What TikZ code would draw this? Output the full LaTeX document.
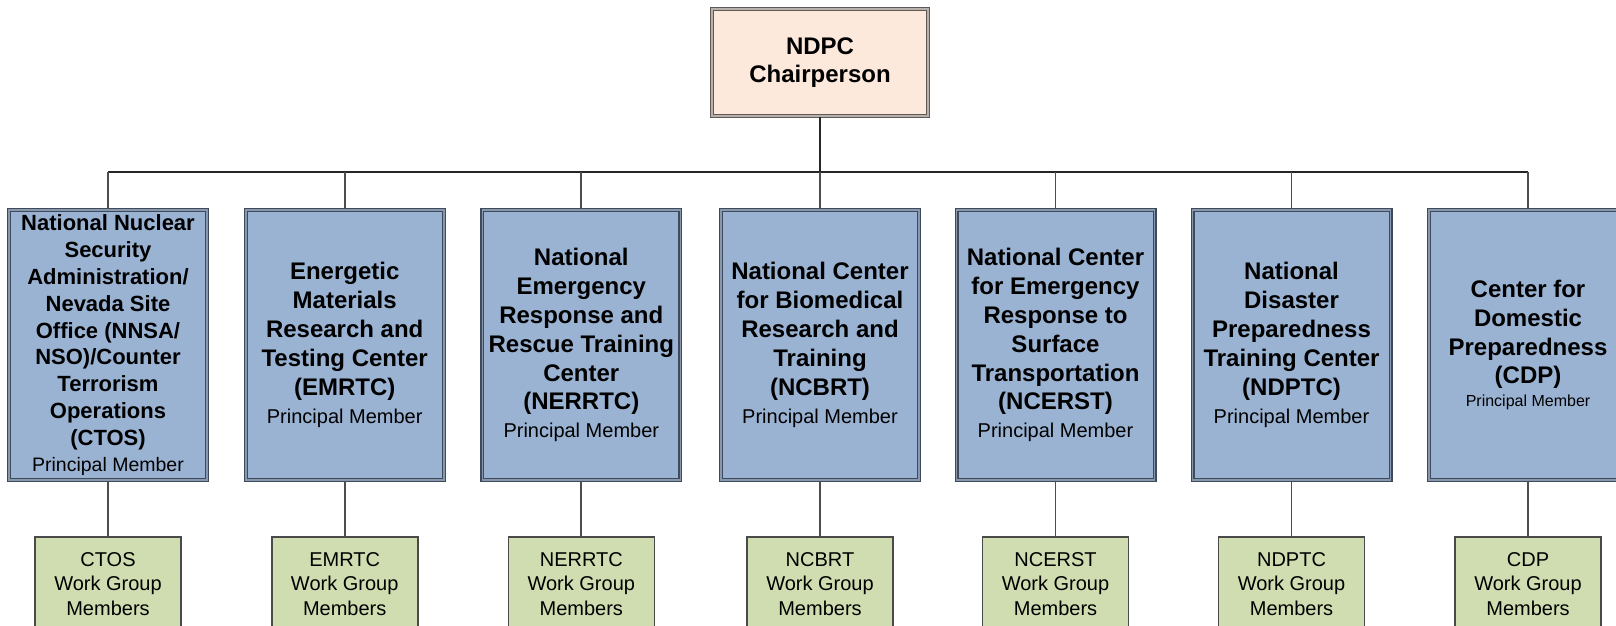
\documentclass[tikz,border=0pt]{standalone}
\usepackage{fontspec}
\setmainfont{Liberation Sans}
\definecolor{bluefill}{HTML}{9AB3D3}
\definecolor{blueedge}{HTML}{3F4A5A}
\definecolor{bluegap}{HTML}{8797AE}
\definecolor{peachfill}{HTML}{FDE9DC}
\definecolor{peachedge}{HTML}{5F5A57}
\definecolor{peachgap}{HTML}{B8B0AA}
\definecolor{greenfill}{HTML}{CFDDB0}
\definecolor{greenedge}{HTML}{4A4A4A}
\definecolor{linegrey}{HTML}{4D4D4D}
\newcommand{\prmem}{\fontsize{20}{24}\selectfont\mdseries Principal Member}
\begin{document}
\begin{tikzpicture}[x=1pt,y=-1pt,
  topbox/.style={draw=peachedge, line width=1.2pt, double=peachgap, double distance=1.6pt,
    fill=peachfill, minimum width=216pt, minimum height=107pt, inner sep=0pt, align=center,
    font=\fontsize{24}{28}\selectfont\bfseries},
  orgbox/.style={draw=blueedge, line width=1.2pt, double=bluegap, double distance=1.6pt,
    fill=bluefill, minimum width=198pt, minimum height=270pt, inner sep=0pt, align=center,
    font=\fontsize{24}{28.9}\selectfont\bfseries},
  wgbox/.style={draw=greenedge, line width=1.6pt, fill=greenfill,
    minimum width=146pt, minimum height=94pt, inner sep=0pt, align=center,
    font=\fontsize{20}{24.5}\selectfont},
  conn/.style={draw=linegrey, line width=1.8pt},
  bus/.style={draw=black!85, line width=2pt}]
\useasboundingbox (0,0) rectangle (1616,626);
\clip (0,0) rectangle (1616,626);

\node[topbox] (top) at (820,62.5) {NDPC\\Chairperson};

\node[orgbox, font=\fontsize{22}{26.8}\selectfont\bfseries] (b1) at (108,345)
  {National Nuclear\\Security\\Administration/\\Nevada Site\\Office (NNSA/\\NSO)/Counter\\Terrorism\\Operations\\(CTOS)\\[-1pt]{\fontsize{19.5}{24}\selectfont\mdseries Principal Member}};
\node[orgbox] (b2) at (344.7,345)
  {Energetic\\Materials\\Research and\\Testing Center\\(EMRTC)\\[-1.1pt]{\prmem}};
\node[orgbox] (b3) at (581.3,345)
  {National\\Emergency\\Response and\\Rescue Training\\Center\\(NERRTC)\\[-1.1pt]{\prmem}};
\node[orgbox] (b4) at (820,345)
  {National Center\\for Biomedical\\Research and\\Training\\(NCBRT)\\[-1.1pt]{\prmem}};
\node[orgbox] (b5) at (1055.5,345)
  {National Center\\for Emergency\\Response to\\Surface\\Transportation\\(NCERST)\\[-1.1pt]{\prmem}};
\node[orgbox] (b6) at (1291.5,345)
  {National\\Disaster\\Preparedness\\Training Center\\(NDPTC)\\[-1.1pt]{\prmem}};
\node[orgbox] (b7) at (1528,345)
  {Center for\\Domestic\\Preparedness\\(CDP)\\[-6pt]{\fontsize{16}{20}\selectfont\mdseries Principal Member}};

\node[wgbox] (g1) at (108,584) {CTOS\\Work Group\\Members};
\node[wgbox] (g2) at (344.7,584) {EMRTC\\Work Group\\Members};
\node[wgbox] (g3) at (581.3,584) {NERRTC\\Work Group\\Members};
\node[wgbox] (g4) at (820,584) {NCBRT\\Work Group\\Members};
\node[wgbox] (g5) at (1055.5,584) {NCERST\\Work Group\\Members};
\node[wgbox] (g6) at (1291.5,584) {NDPTC\\Work Group\\Members};
\node[wgbox] (g7) at (1528,584) {CDP\\Work Group\\Members};

\coordinate (busL) at (b1.north |- 0,172);
\coordinate (busR) at (b7.north |- 0,172);
\draw[bus] (busL) -- (busR);
\draw[bus, line width=2.4pt] (top.south) -- (top.south |- busL);
\foreach \i in {1,...,7}{
  \draw[conn] (b\i.north) -- (b\i.north |- busL);
  \draw[conn] (b\i.south) -- (g\i.north);
}
\end{tikzpicture}
\end{document}
